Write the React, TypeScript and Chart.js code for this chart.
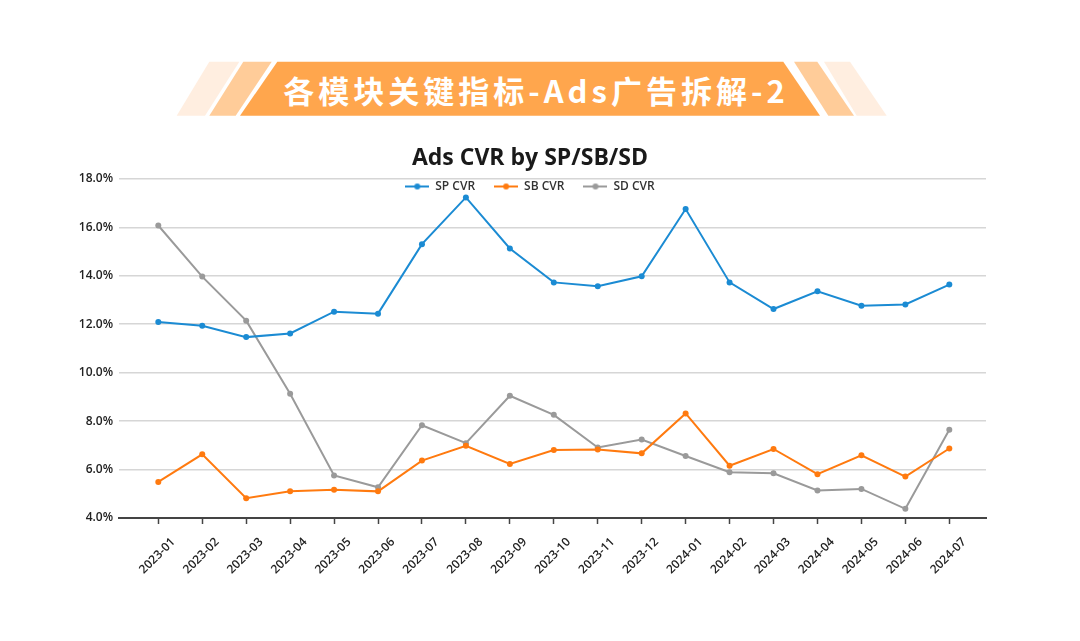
import React, { useEffect, useRef } from "react";
import { Chart, registerables } from "chart.js";

Chart.register(...registerables);

const categories = [
  "2023-01", "2023-02", "2023-03", "2023-04", "2023-05", "2023-06", "2023-07",
  "2023-08", "2023-09", "2023-10", "2023-11", "2023-12", "2024-01", "2024-02",
  "2024-03", "2024-04", "2024-05", "2024-06", "2024-07",
];
const spCvr = [12.09, 11.94, 11.47, 11.62, 12.52, 12.44, 15.31, 17.24, 15.13, 13.73, 13.57, 13.98, 16.76, 13.73, 12.63, 13.36, 12.77, 12.82, 13.64];
const sbCvr = [5.49, 6.63, 4.82, 5.1, 5.17, 5.1, 6.37, 6.98, 6.23, 6.81, 6.83, 6.67, 8.32, 6.16, 6.85, 5.81, 6.59, 5.71, 6.87];
const sdCvr = [16.08, 13.97, 12.15, 9.13, 5.76, 5.27, 7.83, 7.09, 9.05, 8.26, 6.91, 7.24, 6.56, 5.89, 5.85, 5.14, 5.2, 4.38, 7.64];
const seriesNames = ["SP CVR", "SB CVR", "SD CVR"];
const seriesColors = ["#1b8bd3", "#ff7a0f", "#9a9a9a"];
const yTicks = [4, 6, 8, 10, 12, 14, 16, 18];
const chartTitle = "Ads CVR by SP/SB/SD";
const bannerTitle = "各模块关键指标-Ads广告拆解-2";

const FONT = "'Open Sans', 'Noto Sans', sans-serif";

function legendImage(color: string) {
  const c = document.createElement("canvas");
  c.width = 24;
  c.height = 8;
  const ctx = c.getContext("2d")!;
  ctx.strokeStyle = color;
  ctx.lineWidth = 2;
  ctx.beginPath();
  ctx.moveTo(0, 4);
  ctx.lineTo(24, 4);
  ctx.stroke();
  ctx.fillStyle = color;
  ctx.beginPath();
  ctx.arc(12, 4, 3, 0, Math.PI * 2);
  ctx.fill();
  return c;
}

// Legend overlaps the top of the plot area in the reference.
const legendShift = {
  id: "legendShift",
  afterLayout(chart: any) {
    const l = chart.legend;
    if (l) {
      const padding = l.options.labels.padding;
      l.top = chart.chartArea.top + 7.5 - 6 - padding;
      l.bottom = l.top + 60;
    }
  },
};

export default function App() {
  const ref = useRef<HTMLCanvasElement>(null);

  useEffect(() => {
    if (!ref.current) return;
    const images = seriesColors.map(legendImage);
    const all = [spCvr, sbCvr, sdCvr];
    const chart = new Chart(ref.current, {
      type: "line",
      data: {
        datasets: all.map((vals, k) => ({
          label: seriesNames[k],
          data: vals.map((v, i) => ({ x: i, y: v })),
          borderColor: seriesColors[k],
          backgroundColor: seriesColors[k],
          borderWidth: 2,
          pointRadius: 3,
          pointBorderWidth: 0,
          pointStyle: "circle",
          tension: 0,
        })),
      },
      options: {
        animation: false,
        responsive: false,
        maintainAspectRatio: false,
        layout: { padding: { left: 74, right: 94, top: 130, bottom: 59 } },
        plugins: {
          tooltip: { enabled: false },
          title: {
            display: true,
            text: chartTitle,
            color: "#1a1a1a",
            font: { family: FONT, size: 23, weight: "bold" },
            padding: { top: 14.2, bottom: 2.2 },
          },
          legend: {
            position: "top",
            align: "center",
            maxHeight: 5,
            labels: {
              usePointStyle: true,
              pointStyleWidth: 24,
              padding: 19,
              color: "#333333",
              font: { family: FONT, size: 12, weight: "600" },
              generateLabels: (c: any) => {
                const items = (Chart.defaults.plugins.legend.labels as any).generateLabels(c);
                items.forEach((it: any, i: number) => {
                  it.pointStyle = images[i];
                });
                return items;
              },
            },
          },
        },
        scales: {
          x: {
            type: "linear",
            min: -0.894,
            max: 18.835,
            afterBuildTicks: (s: any) => {
              s.ticks = categories.map((_, i) => ({ value: i }));
            },
            afterFit: (s: any) => {
              s.height = 64;
            },
            ticks: {
              autoSkip: false,
              maxRotation: 45,
              minRotation: 45,
              padding: 11,
              labelOffset: 15,
              color: "#222222",
              font: { family: FONT, size: 12, weight: "600" },
              callback: (v: any) => categories[v] ?? "",
            },
            grid: {
              drawOnChartArea: false,
              drawTicks: true,
              tickLength: 6,
              tickColor: "#444444",
              tickWidth: 1.5,
            },
            border: { display: true, color: "#444444", width: 2 },
          },
          y: {
            min: 4,
            max: 18,
            afterBuildTicks: (s: any) => {
              s.ticks = yTicks.map((v) => ({ value: v }));
            },
            afterFit: (s: any) => {
              s.width = 45;
            },
            ticks: {
              padding: 6,
              color: "#222222",
              font: { family: FONT, size: 12, weight: "600" },
              callback: (v: any) => Number(v).toFixed(1) + "%",
            },
            grid: { color: "#d6d6d6", lineWidth: 1.6, drawTicks: false },
            border: { display: false },
          },
        },
      },
      plugins: [legendShift],
    });
    return () => chart.destroy();
  }, []);

  const top = 61.7;
  const bot = 115.7;
  return (
    <div style={{ position: "absolute", left: 0, top: 0, width: 1080, height: 641, background: "#ffffff" }}>
      <svg width={1080} height={641} style={{ position: "absolute", left: 0, top: 0 }}>
        <polygon points={`209.3,${top} 239.3,${top} 205,${bot} 176.7,${bot}`} fill="#ffeee0" />
        <polygon points={`243.3,${top} 271.7,${top} 235.7,${bot} 209.3,${bot}`} fill="#ffcc99" />
        <polygon points={`277.3,${top} 783.3,${top} 820,${bot} 240,${bot}`} fill="#ffa64d" />
        <polygon points={`794,${top} 817.3,${top} 854,${bot} 828.3,${bot}`} fill="#ffcc99" />
        <polygon points={`824,${top} 850,${top} 886.7,${bot} 856.7,${bot}`} fill="#ffeee0" />
        <text
          x={536}
          y={89}
          textAnchor="middle"
          dominantBaseline="central"
          fill="#ffffff"
          style={{ fontFamily: "'Noto Sans CJK SC', sans-serif", fontWeight: 700, fontSize: 31, letterSpacing: 4 }}
        >
          {bannerTitle}
        </text>
      </svg>
      <canvas ref={ref} width={1080} height={641} style={{ position: "absolute", left: 0, top: 0 }} />
    </div>
  );
}
